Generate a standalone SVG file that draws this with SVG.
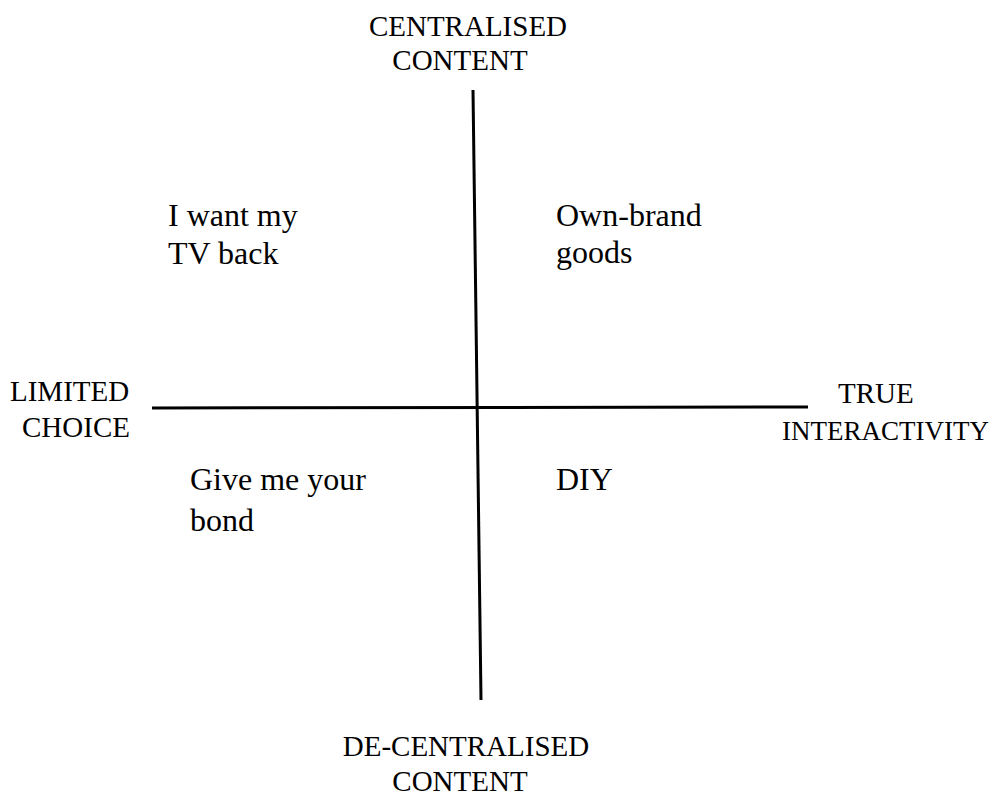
<svg xmlns="http://www.w3.org/2000/svg" width="999" height="805" viewBox="0 0 999 805">
<style>
text{font-family:"Liberation Serif","Times New Roman",serif;font-size:29px;fill:#000}
.q{font-size:32px}
.s{font-size:27px}
.c{text-anchor:middle}
.ax{stroke:#000;stroke-width:3;fill:none}
</style>
<rect width="999" height="805" fill="#fff"/>
<g id="connectors">
<line class="ax" x1="152" y1="408" x2="808" y2="407"/>
<line class="ax" x1="473" y1="90" x2="481" y2="700"/>
</g>
<g id="axis-top"><text class="c" x="468" y="36">CENTRALISED</text><text class="c" x="460" y="70">CONTENT</text></g>
<g id="axis-left"><text x="10" y="401">LIMITED</text><text x="22" y="437">CHOICE</text></g>
<g id="axis-right"><text x="838" y="403">TRUE</text><text class="s" x="782" y="440">INTERACTIVITY</text></g>
<g id="axis-bottom"><text class="c" x="466" y="756">DE-CENTRALISED</text><text class="c" x="460" y="791">CONTENT</text></g>
<g id="q-tl"><text class="q" x="168" y="226">I want my</text><text class="q" x="168" y="264">TV back</text></g>
<g id="q-tr"><text class="q" x="556" y="226">Own-brand</text><text class="q" x="556" y="263">goods</text></g>
<g id="q-bl"><text class="q" x="190" y="490">Give me your</text><text class="q" x="190" y="531">bond</text></g>
<g id="q-br"><text class="q" x="556" y="490">DIY</text></g>
</svg>
